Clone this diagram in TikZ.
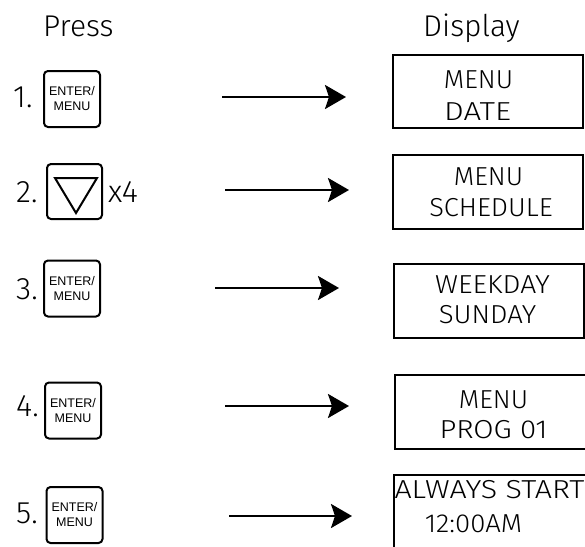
\documentclass[tikz,border=0pt]{standalone}
\usepackage{fontspec}
\usepackage{graphicx}
\setmainfont{Fira Sans}[UprightFont=* Light]
\newfontfamily\btnfont{Liberation Sans}
\newcommand{\hs}[2]{\scalebox{#1}[1]{#2}}
\usetikzlibrary{arrows.meta}
\tikzset{
  btn/.style={draw, line width=2pt, rounded corners=4pt, minimum width=56pt, minimum height=56pt, inner sep=0pt, align=center, font=\btnfont\fontsize{12.5}{15}\selectfont},
  dispbox/.style={draw, line width=2pt},
  lbl/.style={anchor=base, inner sep=0pt, font=\fontsize{26}{26}\selectfont},
  hdr/.style={anchor=base west, inner sep=0pt, font=\fontsize{30}{30}\selectfont},
  num/.style={anchor=base west, inner sep=0pt, font=\fontsize{31}{31}\selectfont},
  arr/.style={line width=2.5pt, -{Stealth[length=21pt, width=24pt, inset=4pt]}}
}
\begin{document}
\begin{tikzpicture}[x=1pt,y=-1pt]
\useasboundingbox (0,0) rectangle (585,546);
\clip (0,0) rectangle (585,546);
% headers
\node[hdr] (press) at (43,36) {Press};
\node[hdr] (display) at (423,36) {Display};
% step numbers
\node[num] (n1) at (13,107) {1.};
\node[num] (n2) at (16,202) {2.};
\node[num] (n3) at (16,299) {3.};
\node[num] (n4) at (16,416) {4.};
\node[num] (n5) at (16,523) {5.};
\node[num] (x4) at (108,202) {x4};
% buttons
\node[btn] (b1) at (72,99) {ENTER/\\MENU};
\node[btn, minimum width=55pt, minimum height=55pt] (b2) at (74.5,191.5) {};
\draw[line width=2pt, line join=miter] (55,178) -- (97,178) -- (76,213) -- cycle;
\node[btn] (b3) at (72,288.5) {ENTER/\\MENU};
\node[btn] (b4) at (73,410.5) {ENTER/\\MENU};
\node[btn] (b5) at (74.5,515) {ENTER/\\MENU};
% display boxes
\draw[dispbox] (393,55) rectangle (583,128);
\draw[dispbox] (393,155) rectangle (583,229);
\draw[dispbox] (394,264) rectangle (584,338);
\draw[dispbox] (395,375) rectangle (590,449);
\draw[dispbox] (394,475) rectangle (600,560);
% display texts
\node[lbl] (d1a) at (478.5,88) {\hs{1.02}{MENU}};
\node[lbl] (d1b) at (477.5,120) {\hs{1.2}{DATE}};
\node[lbl] (d2a) at (488.5,185) {\hs{1.02}{MENU}};
\node[lbl] (d2b) at (491,216) {\hs{1.045}{SCHEDULE}};
\node[lbl] (d3a) at (492.5,293) {\hs{1.09}{WEEKDAY}};
\node[lbl] (d3b) at (487.5,323) {\hs{1.06}{SUNDAY}};
\node[lbl] (d4a) at (493.5,408) {\hs{1.02}{MENU}};
\node[lbl] (d4b) at (493.5,438) {\hs{1.13}{PROG 01}};
\node[lbl] (d5a) at (489.5,498) {\hs{1.17}{ALWAYS START}};
\node[lbl] (d5b) at (473.5,532) {\hs{1.06}{12:00AM}};
% arrows
\coordinate (a1s) at (222,97);  \coordinate (a1e) at (346,97);
\coordinate (a2s) at (225,190); \coordinate (a2e) at (349,190);
\coordinate (a3s) at (215,288); \coordinate (a3e) at (339,288);
\coordinate (a4s) at (225,406); \coordinate (a4e) at (349,406);
\coordinate (a5s) at (229,516); \coordinate (a5e) at (352,516);
\draw[arr] (a1s) -- (a1e);
\draw[arr] (a2s) -- (a2e);
\draw[arr] (a3s) -- (a3e);
\draw[arr] (a4s) -- (a4e);
\draw[arr] (a5s) -- (a5e);
\end{tikzpicture}
\end{document}
